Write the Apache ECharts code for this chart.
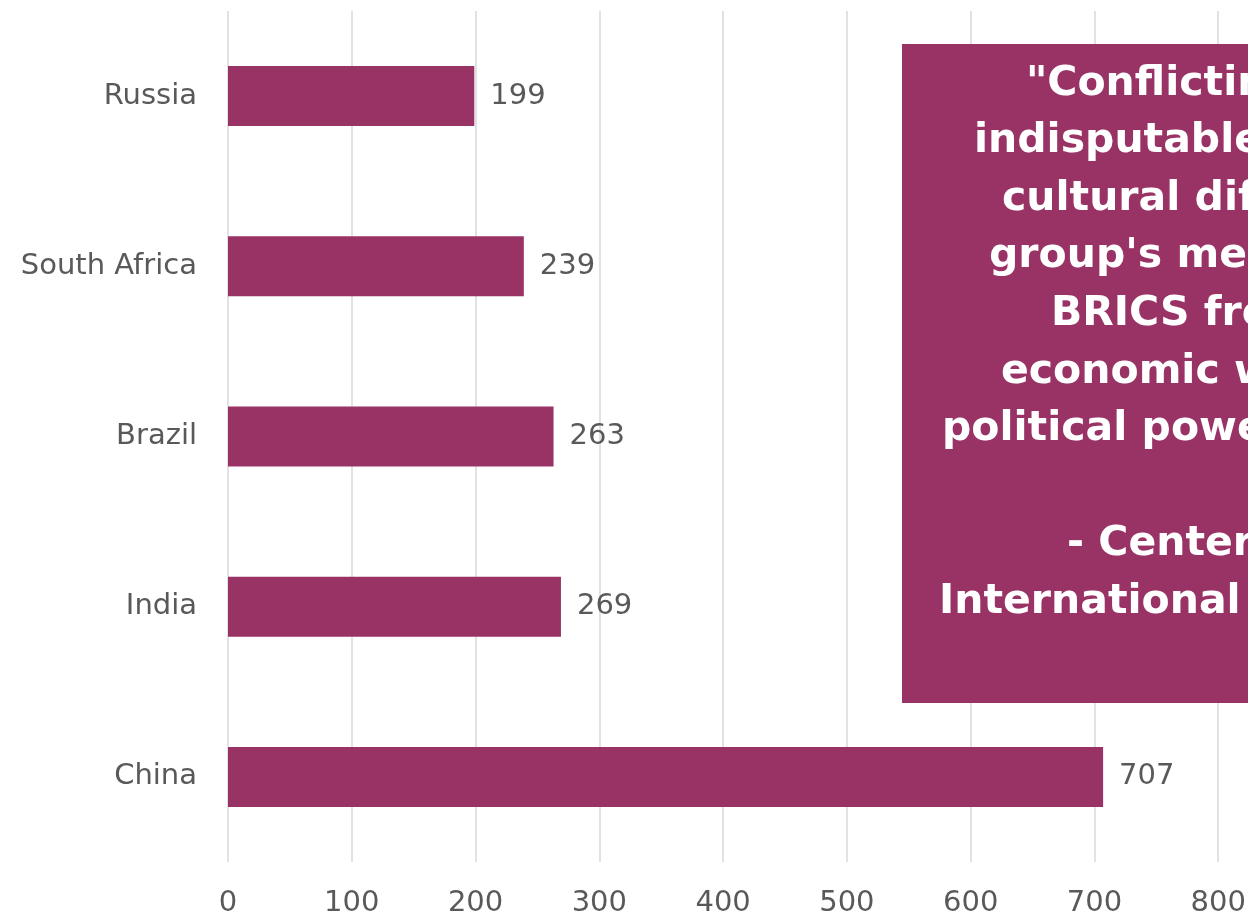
<!DOCTYPE html>
<html>
<head>
<meta charset="utf-8">
<title>BRICS</title>
<script src="https://cdn.jsdelivr.net/npm/echarts@6/dist/echarts.min.js"></script>
<style>
  html, body { margin: 0; padding: 0; background: #ffffff; }
  #chart { width: 1248px; height: 918px; }
</style>
</head>
<body>
<div id="chart"></div>
<script>
// Countries (top to bottom) and their values
const categories = ['Russia', 'South Africa', 'Brazil', 'India', 'China'];
const values = [199, 239, 263, 269, 707];

// Value axis ticks
const axisMin = 0;
const axisMax = 900;
const axisStep = 100;

// Quote shown in the callout box, one entry per line
const quoteLines = [
  '"Conflicting interests,',
  'indisputable political and',
  'cultural differences, and the',
  "group's members' rivalries",
  'BRICS from translating its',
  'economic weight into',
  'political power."',
  '',
  '- Center for Strategic and',
  'International Studies'
];
// left edge of each quote line (the block is centred in the box)
const quoteLineX = [1026, 974, 1002, 989, 1051, 1001, 942, 0, 1067, 939];

const barColor = '#993366';
const textColor = '#595959';
const labelFont = '"DejaVu Sans", "Liberation Sans", sans-serif';

const chart = echarts.init(document.getElementById('chart'), null, { renderer: 'canvas' });

const quoteTop = 84;       // vertical centre of the first line
const quotePitch = 57.6;   // line spacing
const quoteElements = quoteLines.map((line, i) => ({
  type: 'text',
  z: 101,
  style: {
    text: line,
    x: quoteLineX[i],
    y: quoteTop + quotePitch * i,
    verticalAlign: 'middle',
    fill: '#ffffff',
    font: 'bold 41px "DejaVu Sans", sans-serif'
  }
}));

chart.setOption({
  animation: false,
  grid: {
    left: 228, top: 11, width: 1114, height: 851,
    containLabel: false,
    outerBoundsMode: 'none'
  },
  xAxis: {
    type: 'value',
    min: axisMin,
    max: axisMax,
    interval: axisStep,
    axisLine: { show: false },
    axisTick: { show: false },
    splitLine: { show: true, lineStyle: { color: '#d9d9d9', width: 1.5 } },
    axisLabel: {
      color: textColor,
      fontFamily: labelFont,
      fontSize: 29,
      margin: 27
    }
  },
  yAxis: {
    type: 'category',
    inverse: true,
    data: categories,
    axisLine: { show: false },
    axisTick: { show: false },
    splitLine: { show: false },
    axisLabel: {
      color: textColor,
      fontFamily: labelFont,
      fontSize: 29,
      margin: 31
    }
  },
  series: [{
    type: 'bar',
    data: values,
    barWidth: 60,
    itemStyle: { color: barColor },
    label: {
      show: true,
      position: 'right',
      distance: 16,
      color: textColor,
      fontFamily: labelFont,
      fontSize: 29
    }
  }],
  graphic: [
    {
      type: 'rect',
      z: 100,
      shape: { x: 902, y: 44, width: 600, height: 659 },
      style: { fill: barColor }
    }
  ].concat(quoteElements)
});
</script>
</body>
</html>
